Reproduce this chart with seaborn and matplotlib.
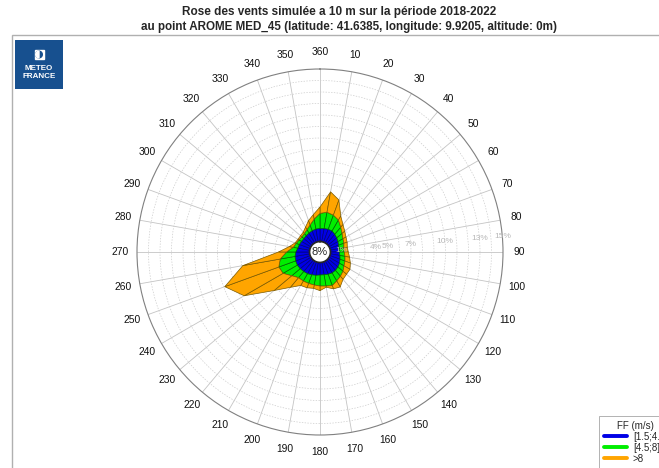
import numpy as np
import seaborn as sns
import matplotlib.pyplot as plt
from matplotlib.lines import Line2D
from matplotlib.patches import Rectangle, Circle, Wedge

# wind directions (deg, from north, clockwise) and frequency (%) per speed class
directions = list(range(0, 360, 10))
dir_labels = ['360'] + [str(d) for d in range(10, 360, 10)]
ff_low = [1.15, 1.17, 1.2, 1.2, 1.1, 1.0, 0.9, 0.82, 0.78, 0.77, 0.85, 0.95,
          1.05, 1.13, 1.18, 1.2, 1.15, 1.1, 1.09, 1.15, 1.2, 1.27, 1.3, 1.35,
          1.37, 1.35, 1.3, 1.2, 1.05, 1.0, 0.95, 0.92, 0.95, 1.0, 1.07, 1.12]
ff_mid = [1.3, 1.43, 1.3, 1.1, 0.8, 0.6, 0.5, 0.48, 0.42, 0.43, 0.45, 0.45,
          0.45, 0.57, 0.67, 0.8, 1.05, 1.0, 0.96, 0.85, 0.8, 0.73, 0.7, 0.95,
          1.43, 1.55, 1.3, 0.8, 0.4, 0.3, 0.25, 0.23, 0.25, 0.35, 0.53, 0.88]
ff_high = [0.55, 1.8, 1.4, 0.4, 0.3, 0.3, 0.3, 0.3, 0.3, 0.35, 0.4, 0.5,
           0.6, 0.4, 0.35, 0.6, 0.3, 0.1, 0.4, 0.3, 0.4, 0.45, 1.1, 2.0,
           3.9, 5.0, 3.3, 0.7, 0.35, 0.1, 0.1, 0.15, 0.15, 0.25, 0.4, 0.4]
classes = ['[1.5;4.5[', '[4.5;8]', '>8']
class_colors = ['#0000e6', '#00ee00', '#ffa500']
edge_colors = ['#00007a', '#006400', '#7a5a00']
calm = '8%'
ring_labels = [1, 4, 5, 7, 10, 13, 15]

sns.set_theme(style='white')
plt.rcParams['font.family'] = ['Liberation Sans', 'DejaVu Sans']

fig = plt.figure(figsize=(6.59, 4.68), dpi=100)
W, H = 659, 468

# grey frame
fig.patches.append(Rectangle((12 / W, -0.1), 1.2, 1 - 35 / H + 0.1, transform=fig.transFigure,
                             fill=False, edgecolor='#b0b0b0', lw=1))

ax = fig.add_axes([137 / W, 1 - 435 / H, 366 / W, 366 / H], projection='polar')
ax.set_theta_zero_location('N')
ax.set_theta_direction(-1)
ax.set_ylim(0, 15)
ax.set_rorigin(-0.91)
ax.set_axisbelow(True)

theta = np.deg2rad(directions + [360])
levels = [np.zeros(len(directions))]
for vals in [ff_low, ff_mid, ff_high]:
    levels.append(levels[-1] + np.array(vals))

for k in range(3):
    inner = np.append(levels[k], levels[k][0])
    outer = np.append(levels[k + 1], levels[k + 1][0])
    for i in range(len(directions)):
        th = [theta[i], theta[i], theta[i + 1], theta[i + 1]]
        rr = [inner[i], outer[i], outer[i + 1], inner[i + 1]]
        ax.fill(th, rr, facecolor=class_colors[k], edgecolor=edge_colors[k], lw=0.5, zorder=2)

ax.set_xticks(np.deg2rad(directions))
ax.set_xticklabels([])
ax.set_yticks(range(1, 15))
ax.set_yticklabels([])
ax.xaxis.grid(True, color='#c4c4c4', lw=0.6, ls='-')
ax.yaxis.grid(True, color='#cccccc', lw=0.5, ls=(0, (2, 2)))
ax.spines['polar'].set_color('#808080')
ax.spines['polar'].set_linewidth(0.8)

for d, lab in zip(directions, dir_labels):
    ax.text(np.deg2rad(d), 16.45, lab, ha='center', va='center', fontsize=7.4,
            color='#111111', clip_on=False)

for r in ring_labels:
    ax.text(np.deg2rad(85), r, f'{r}%', color='#b8b8b8', fontsize=6,
            ha='center', va='center', zorder=3)
ax.text(0, -0.91, calm, ha='center', va='center', fontsize=8, zorder=4)

fig.text(339 / W, 1 - 12 / H, 'Rose des vents simulée a 10 m sur la période 2018-2022',
         ha='center', va='center', fontsize=8.5, fontweight='bold')
fig.text(349 / W, 1 - 27 / H,
         'au point AROME MED_45 (latitude: 41.6385, longitude: 9.9205, altitude: 0m)',
         ha='center', va='center', fontsize=8.4, fontweight='bold')

# logo
lax = fig.add_axes([15 / W, 1 - 89 / H, 48 / W, 49 / H])
lax.set_xlim(0, 48)
lax.set_ylim(49, 0)
lax.axis('off')
lax.add_patch(Rectangle((0, 0), 48, 49, color='#17508f'))
lax.add_patch(Rectangle((19.5, 10), 9, 9, color='white'))
lax.add_patch(Circle((24, 14.5), 3.3, color='#17508f'))
lax.add_patch(Wedge((24, 14.5), 3.3, 90, 270, color='white'))
lax.text(24, 29, 'METEO', color='white', fontsize=5.8, fontweight='bold', ha='center', va='center')
lax.text(24, 36.5, 'FRANCE', color='white', fontsize=5.8, fontweight='bold', ha='center', va='center')

handles = [Line2D([], [], color=c, lw=2.8) for c in class_colors]
leg = fig.legend(handles, classes, title='FF (m/s)', loc='upper left',
                 bbox_to_anchor=(594 / W, 1 - 411 / H), fontsize=7, title_fontsize=7,
                 frameon=True, fancybox=False, edgecolor='#909090', handlelength=2.4,
                 borderpad=0.5, labelspacing=0.1, handletextpad=0.6)
leg.get_frame().set_linewidth(0.6)

fig.savefig('out.png', dpi=100)
